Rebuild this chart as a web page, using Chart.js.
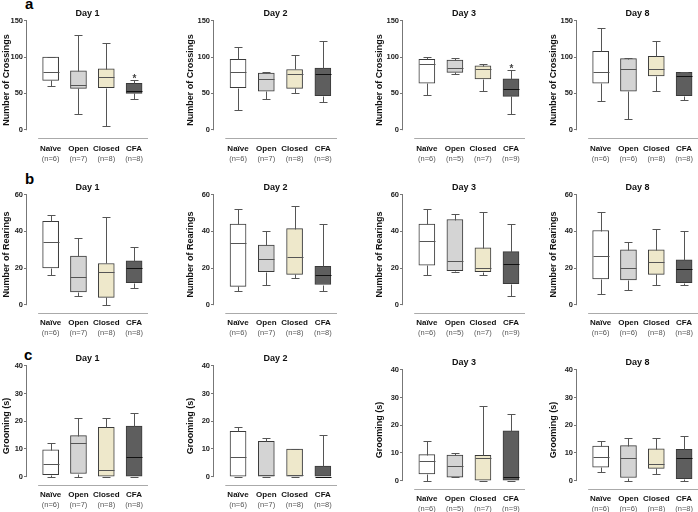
<!DOCTYPE html>
<html>
<head>
<meta charset="utf-8">
<script src="https://cdn.jsdelivr.net/npm/chart.js@4.4.1/dist/chart.umd.min.js"></script>
<style>
  body { margin: 0; background: #fff; }
  #wrap { position: relative; width: 698px; height: 512px; overflow: hidden; }
  #wrap canvas { position: absolute; }
  .tag { position: absolute; font: bold 15px "Liberation Sans", Arial, sans-serif; line-height: 15px; color: #000; }
</style>
</head>
<body>
<div id="wrap">
  <div class="tag" style="left:25px;top:-4px">a</div>
  <div class="tag" style="left:25px;top:171px">b</div>
  <div class="tag" style="left:24px;top:347px">c</div>
</div>
<script>
// ========== DATA ==========
const groups = ["Naïve", "Open", "Closed", "CFA"];
const days = ["Day 1", "Day 2", "Day 3", "Day 8"];
const nPerDay = [[6, 7, 8, 8], [6, 7, 8, 8], [6, 5, 7, 9], [6, 6, 8, 8]];

// each box: [min, q1, median, q3, max]
const crossingsD1 = [[60, 68, 80, 100, 100], [21, 57, 61, 81, 130], [5, 58, 72, 84, 119], [42, 50, 53, 64, 68]];
const crossingsD2 = [[27, 58, 79, 97, 114], [42, 53, 70, 78, 80], [50, 57, 77, 83, 103], [38, 47, 77, 85, 122]];
const crossingsD3 = [[48, 64, 91, 97, 100], [77, 79, 85, 96, 99], [54, 70, 83, 88, 91], [21, 46, 56, 70, 82]];
const crossingsD8 = [[40, 64, 80, 108, 140], [15, 53, 83, 98, 99], [54, 74, 84, 101, 122], [41, 47, 74, 79, 80]];

const rearingsD1 = [[16, 20, 34, 45.5, 49], [4.5, 7, 15, 26.5, 36.5], [0, 4, 18, 22.5, 48], [9, 12, 20, 24, 31.5]];
const rearingsD2 = [[7.5, 10, 33.5, 44, 52], [10.5, 18, 25, 32.5, 40], [14.5, 16.5, 26, 41.5, 54], [7.5, 11, 16, 21, 44]];
const rearingsD3 = [[16, 21.5, 34.5, 44, 52.5], [17.8, 18.5, 24, 46.5, 49.5], [16, 18, 20, 31, 50.5], [5, 11.5, 22, 29, 44]];
const rearingsD8 = [[6, 14, 26.5, 40.5, 50.5], [8, 13.5, 20, 30, 34], [11, 16.5, 23.5, 30, 41.5], [11, 12, 19.5, 24.5, 40.5]];

const groomingD1 = [[0, 0.7, 4.4, 9.7, 12], [0, 1.1, 12, 14.8, 21], [0, 0, 2.5, 17.8, 21], [0, 0, 7, 18.2, 23]];
const groomingD2 = [[0, 0, 7, 16.3, 18], [0, 0, 0.7, 12.7, 14], [0, 0, 0.7, 9.9, 10], [0, 0, 0, 3.8, 15]];
const groomingD3 = [[0, 2.4, 7, 9.4, 14.2], [1.2, 1.2, 5.2, 9.2, 10.1], [0, 0, 8.2, 9.1, 27], [0, 0, 1.2, 18, 24]];
const groomingD8 = [[3.2, 4.8, 8.6, 12.5, 14.2], [0, 1.1, 8, 12.6, 15.3], [2.2, 4.4, 6.1, 11.5, 15.3], [0, 0.7, 8.2, 11.3, 16]];

const crossingsTicks = [0, 50, 100, 150];
const rearingsTicks = [0, 20, 40, 60];
const groomingTicks = [0, 10, 20, 30, 40];

// index of the group marked with * (null = none)
const crossingsStar = [3, null, 3, null];

const boxFill = ["#ffffff", "#d4d4d4", "#eee8cb", "#5e5e5e"];

// ========== LAYOUT ==========
const FONT = '"Liberation Sans", Arial, sans-serif';
Chart.defaults.font.family = FONT;

const cols = [
  { left: 0, axis: 27, right: 148, titlePad: 1 },
  { left: 175, axis: 39, right: 162, titlePad: 10 },
  { left: 350, axis: 53, right: 175, titlePad: 24 },
  { left: 523, axis: 54, right: 175, titlePad: 25 }
];
const rows = [
  { top: 0, h: 168, areaTop: 21, bottom: 5, xh: 14, namePad: 5 },
  { top: 168, h: 172, areaTop: 27, bottom: 3, xh: 13, namePad: 4 },
  { top: 338, h: 174, areaTop: 28, bottom: 3, xh: 13, namePad: 4 }
];

// ========== BOX PLOT PLUGIN ==========
const boxPlot = {
  id: "boxPlot",
  beforeDatasetsDraw(chart, args, opts) {
    const { ctx, chartArea } = chart;
    const x = chart.scales.x, y = chart.scales.y;
    ctx.save();
    ctx.lineWidth = 1;
    // y axis line, only from 0 to max
    const ax = Math.round(chartArea.left) - 0.5;
    ctx.strokeStyle = "#777";
    ctx.beginPath();
    ctx.moveTo(ax, y.getPixelForValue(opts.max));
    ctx.lineTo(ax, y.getPixelForValue(0) + 0.5);
    ctx.stroke();
    // baseline under the groups
    const by = Math.round(chartArea.bottom) - 0.5;
    ctx.strokeStyle = "#aaa";
    ctx.beginPath();
    ctx.moveTo(x.getPixelForValue(-0.45), by);
    ctx.lineTo(chartArea.right, by);
    ctx.stroke();
    ctx.restore();
  },
  afterDatasetsDraw(chart, args, opts) {
    const { ctx } = chart;
    const x = chart.scales.x, y = chart.scales.y;
    ctx.save();
    ctx.lineWidth = 1;
    opts.stats.forEach((s, i) => {
      const cx = Math.round(x.getPixelForValue(i)) + 0.5;
      const [lo, q1, med, q3, hi] = s.map((v) => Math.round(y.getPixelForValue(v)) + 0.5);
      ctx.strokeStyle = "#555";
      ctx.beginPath();
      ctx.moveTo(cx, hi);
      ctx.lineTo(cx, q3);
      ctx.moveTo(cx, q1);
      ctx.lineTo(cx, lo);
      ctx.moveTo(cx - 4, hi);
      ctx.lineTo(cx + 4, hi);
      ctx.moveTo(cx - 4, lo);
      ctx.lineTo(cx + 4, lo);
      ctx.stroke();
      ctx.strokeStyle = i === 3 ? "#111" : "#555";
      ctx.beginPath();
      ctx.moveTo(cx - 8, med);
      ctx.lineTo(cx + 8, med);
      ctx.stroke();
      if (opts.star === i) {
        ctx.fillStyle = "#444";
        ctx.font = "bold 10px " + FONT;
        ctx.textAlign = "center";
        ctx.textBaseline = "alphabetic";
        ctx.fillText("*", cx, hi + 1);
      }
    });
    ctx.restore();
  }
};

function makePanel(row, col, yLabel, stats, ticks, star) {
  const c = cols[col], r = rows[row];
  const shift = row === 2 && col >= 2 ? 4 : 0;
  const yMax = ticks[ticks.length - 1];
  const ns = nPerDay[col];

  const canvas = document.createElement("canvas");
  canvas.width = 175;
  canvas.height = r.h;
  canvas.style.width = "175px";
  canvas.style.height = r.h + "px";
  canvas.style.left = c.left + "px";
  canvas.style.top = r.top + shift + "px";
  document.getElementById("wrap").appendChild(canvas);

  const groupTicks = (s) => { s.ticks = groups.map((g, i) => ({ value: i })); };

  new Chart(canvas, {
    type: "bar",
    data: {
      datasets: [{
        data: stats.map((s, i) => ({ x: i, y: [s[1], s[3]] })),
        backgroundColor: boxFill,
        borderColor: "#3a3a3a",
        borderWidth: 1,
        borderSkipped: false,
        barThickness: 16
      }]
    },
    options: {
      responsive: false,
      animation: false,
      layout: { padding: { left: 0, right: 175 - c.right, top: 0, bottom: r.bottom } },
      plugins: {
        legend: { display: false },
        tooltip: { enabled: false },
        title: {
          display: true,
          fullSize: false,
          text: days[col],
          color: "#111",
          font: { size: 9, weight: "bold" },
          padding: { top: r.areaTop - 13, bottom: 2 }
        },
        boxPlot: { stats: stats, max: yMax, star: star }
      },
      scales: {
        x: {
          type: "linear",
          min: -0.85,
          max: 3.5,
          offset: false,
          weight: 0,
          grid: { display: false, drawTicks: false },
          border: { display: false },
          afterBuildTicks: groupTicks,
          afterFit: (s) => { s.height = r.xh; },
          ticks: {
            autoSkip: false,
            maxRotation: 0,
            padding: r.namePad,
            color: "#111",
            font: { size: 8, weight: "bold" },
            callback: (v) => groups[v]
          }
        },
        x2: {
          type: "linear",
          position: "bottom",
          min: -0.85,
          max: 3.5,
          offset: false,
          weight: 1,
          grid: { display: false, drawTicks: false },
          border: { display: false },
          afterBuildTicks: groupTicks,
          afterFit: (s) => { s.height = 10; },
          ticks: {
            autoSkip: false,
            maxRotation: 0,
            padding: 1,
            color: "#555",
            font: { size: 7.5 },
            callback: (v) => "(n=" + ns[v] + ")"
          }
        },
        y: {
          min: -yMax * 0.085,
          max: yMax,
          grid: { display: true, drawOnChartArea: false, drawTicks: true, tickLength: 3, color: "#777" },
          border: { display: false },
          afterBuildTicks: (s) => { s.ticks = ticks.map((v) => ({ value: v })); },
          afterFit: (s) => { s.width = c.axis; },
          ticks: { padding: 1, color: "#222", font: { size: 7.5, weight: "bold" } },
          title: {
            display: true,
            text: yLabel,
            color: "#111",
            font: { size: 9, weight: "bold" },
            padding: { top: c.titlePad, bottom: 0 }
          }
        }
      }
    },
    plugins: [boxPlot]
  });
}

const crossingsAll = [crossingsD1, crossingsD2, crossingsD3, crossingsD8];
const rearingsAll = [rearingsD1, rearingsD2, rearingsD3, rearingsD8];
const groomingAll = [groomingD1, groomingD2, groomingD3, groomingD8];

for (let d = 0; d < 4; d++) {
  makePanel(0, d, "Number of Crossings", crossingsAll[d], crossingsTicks, crossingsStar[d]);
  makePanel(1, d, "Number of Rearings", rearingsAll[d], rearingsTicks, null);
  makePanel(2, d, "Grooming (s)", groomingAll[d], groomingTicks, null);
}
</script>
</body>
</html>
